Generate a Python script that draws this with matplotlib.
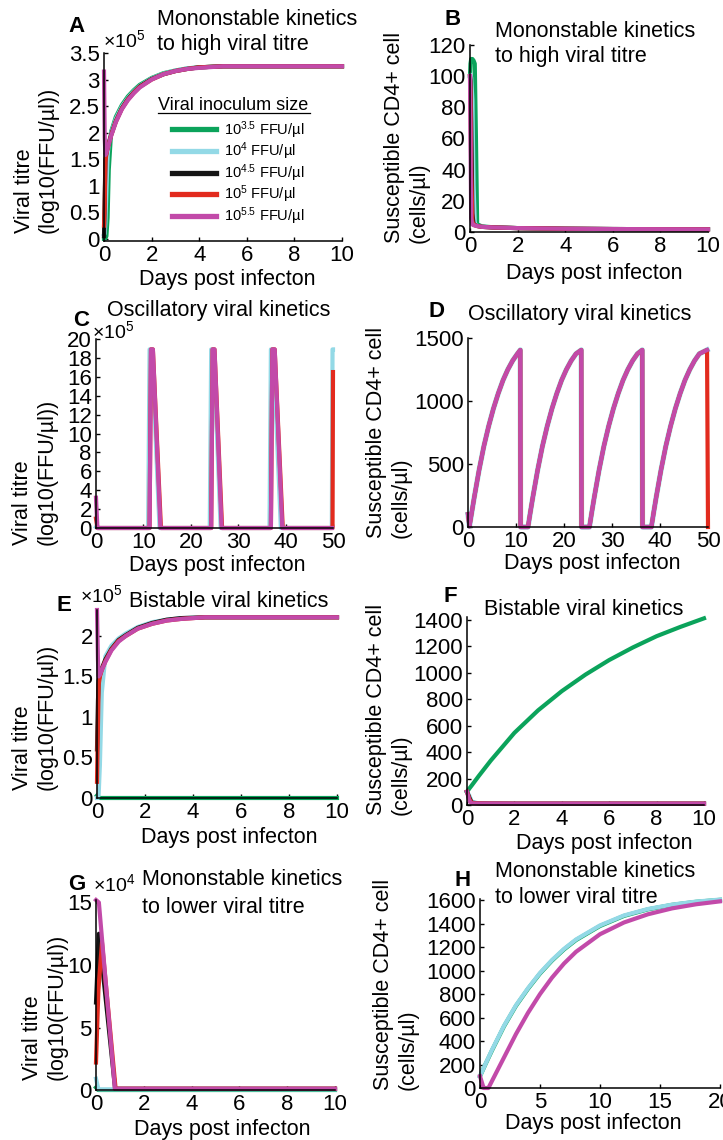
import numpy as np
import matplotlib.pyplot as plt
from matplotlib.lines import Line2D

plt.rcParams['font.family'] = ['Liberation Sans', 'DejaVu Sans']
plt.rcParams['mathtext.fontset'] = 'custom'
plt.rcParams['mathtext.rm'] = 'Liberation Sans'
plt.rcParams['mathtext.it'] = 'Liberation Sans:italic'
plt.rcParams['mathtext.bf'] = 'Liberation Sans:bold'

# legend entries (viral inoculum size) and line colours
inoculum = ['10$^{3.5}$ FFU/µl', '10$^{4}$ FFU/µl', '10$^{4.5}$ FFU/µl',
            '10$^{5}$ FFU/µl', '10$^{5.5}$ FFU/µl']
colors = ['#0ba35b', '#93d9e6', '#151515', '#e22b1e', '#c24aa9']

# ---- A: viral titre (x1e5), mononstable to high titre
t_a = [0, 0.03, 0.06, 0.1, 0.15, 0.2, 0.3, 0.5, 0.75, 1, 1.25, 1.5, 2, 2.5, 3, 3.5, 4, 5, 6, 8, 10]
a_green = [0.0, 0.0, 0.01, 0.05, 0.4, 1.3, 2.02, 2.3, 2.52, 2.68, 2.8, 2.9, 3.03, 3.12, 3.17, 3.21, 3.23, 3.25, 3.25, 3.25, 3.25]
a_cyan = [0.08, 0.1, 0.3, 0.9, 1.55, 1.82, 1.99, 2.26, 2.49, 2.65, 2.78, 2.88, 3.02, 3.11, 3.17, 3.21, 3.23, 3.25, 3.25, 3.25, 3.25]
a_black = [0.05, 0.8, 1.5, 1.62, 1.72, 1.8, 1.96, 2.22, 2.46, 2.63, 2.76, 2.87, 3.01, 3.1, 3.16, 3.2, 3.23, 3.25, 3.25, 3.25, 3.25]
a_red = [0.25, 0.6, 1.45, 1.6, 1.7, 1.79, 1.95, 2.21, 2.45, 2.62, 2.75, 2.86, 3.0, 3.1, 3.16, 3.2, 3.23, 3.25, 3.25, 3.25, 3.25]
a_magenta = [3.15, 1.9, 1.58, 1.62, 1.7, 1.78, 1.94, 2.2, 2.44, 2.61, 2.74, 2.85, 3.0, 3.1, 3.16, 3.2, 3.22, 3.25, 3.25, 3.25, 3.25]

# ---- B: susceptible CD4+ cells
t_b = [0, 0.02, 0.05, 0.1, 0.15, 0.2, 0.25, 0.3, 0.5, 1, 2, 4, 6, 8, 10]
b_green = [100, 108, 111, 111, 110, 108, 60, 5, 3.6, 3.0, 2.5, 2.1, 1.9, 1.8, 1.7]
b_cyan = [100, 101, 99, 85, 30, 6, 4.5, 4, 3.4, 2.9, 2.5, 2.1, 1.9, 1.8, 1.7]
b_black = [100, 97, 70, 12, 5, 4.5, 4.2, 3.9, 3.3, 2.9, 2.5, 2.1, 1.9, 1.8, 1.7]
b_red = [100, 90, 40, 7, 4.6, 4.3, 4.1, 3.8, 3.3, 2.9, 2.5, 2.1, 1.9, 1.8, 1.7]
b_magenta = [100, 60, 9, 4.8, 4.4, 4.2, 4.0, 3.8, 3.3, 2.9, 2.5, 2.1, 1.9, 1.8, 1.7]

# ---- C: oscillatory viral titre (x1e5)
c_cyan_t = [0, 0.3, 11.0, 11.3, 11.8, 13.4, 24.0, 24.3, 24.8, 26.3, 36.6, 36.9, 37.4, 39.0, 49.75, 49.9, 50.0]
c_cyan = [0.1, 0, 0, 18.9, 18.9, 0, 0, 18.9, 18.9, 0, 0, 18.9, 18.9, 0, 0, 18.9, 18.9]
c_red_t = [0, 0.3, 11.3, 11.6, 12.0, 13.7, 24.3, 24.6, 25.0, 26.6, 36.9, 37.2, 37.7, 39.4, 49.9, 50.0]
c_red = [1.0, 0, 0, 18.9, 18.9, 0, 0, 18.9, 18.9, 0, 0, 18.9, 18.9, 0, 0, 16.5]
c_magenta_t = [0, 0.3, 11.3, 11.6, 12.0, 13.6, 24.3, 24.6, 25.0, 26.5, 36.9, 37.2, 37.7, 39.3, 49.8]
c_magenta = [3.2, 0, 0, 18.9, 18.9, 0, 0, 18.9, 18.9, 0, 0, 18.9, 18.9, 0, 0]

# ---- D: oscillatory susceptible cells (four cycles)
d_t = ([0, 0.3, 0.8, 1.3, 2.3, 3.3, 4.3, 5.3, 6.3, 7.3, 8.3, 9.3, 10.3, 10.9, 10.95]
       + [12.5, 13.0, 13.5, 14.5, 15.5, 16.5, 17.5, 18.5, 19.5, 20.5, 21.5, 22.5, 23.6, 23.65]
       + [25.3, 25.8, 26.3, 27.3, 28.3, 29.3, 30.3, 31.3, 32.3, 33.3, 34.3, 35.3, 36.3, 36.35]
       + [38.2, 38.7, 39.2, 40.2, 41.2, 42.2, 43.2, 44.2, 45.2, 46.2, 47.2, 48.2, 49.8])
d_s = ([100, 5, 120, 235, 450, 640, 800, 940, 1060, 1165, 1250, 1320, 1375, 1405, 0]
       + [0, 120, 235, 450, 640, 800, 940, 1060, 1165, 1250, 1320, 1375, 1405, 0]
       + [0, 120, 235, 450, 640, 800, 940, 1060, 1165, 1250, 1320, 1375, 1405, 0]
       + [0, 120, 235, 450, 640, 800, 940, 1060, 1165, 1250, 1320, 1375, 1405])
d_red_end_t = [50.0]
d_red_end = [0]

# ---- E: bistable viral titre (x1e5)
t_e = [0, 0.04, 0.07, 0.12, 0.2, 0.35, 0.6, 0.9, 1.2, 1.7, 2.3, 2.9, 3.5, 4.5, 6, 8, 10]
e_green = [0.03, 0.02, 0.01, 0, 0, 0, 0, 0, 0, 0, 0, 0, 0, 0, 0, 0, 0]
e_cyan = [0.0, 0.0, 0.05, 0.4, 1.3, 1.75, 1.88, 1.97, 2.03, 2.11, 2.17, 2.2, 2.22, 2.23, 2.23, 2.23, 2.23]
e_black = [0.6, 1.2, 1.45, 1.52, 1.6, 1.71, 1.84, 1.95, 2.01, 2.1, 2.16, 2.2, 2.22, 2.23, 2.23, 2.23, 2.23]
e_red = [0.2, 0.9, 1.4, 1.5, 1.58, 1.69, 1.83, 1.94, 2.0, 2.09, 2.15, 2.19, 2.21, 2.23, 2.23, 2.23, 2.23]
e_magenta = [2.32, 1.7, 1.5, 1.52, 1.58, 1.68, 1.82, 1.93, 2.0, 2.09, 2.15, 2.19, 2.21, 2.23, 2.23, 2.23, 2.23]

# ---- F: bistable susceptible cells
t_f = [0, 0.1, 0.2, 0.5, 1, 2, 3, 4, 5, 6, 7, 8, 9, 10]
f_green = [100, 125, 148, 220, 335, 545, 715, 860, 985, 1095, 1190, 1275, 1345, 1410]
f_cyan = [100, 70, 25, 12, 11, 10, 10, 10, 10, 10, 10, 10, 10, 10]
f_black = [100, 55, 18, 12, 11, 10, 10, 10, 10, 10, 10, 10, 10, 10]
f_red = [100, 45, 15, 12, 11, 10, 10, 10, 10, 10, 10, 10, 10, 10]
f_magenta = [100, 30, 12, 11, 11, 10, 10, 10, 10, 10, 10, 10, 10, 10]

# ---- G: viral titre (x1e4), mononstable to lower titre
g_green_t, g_green = [0, 0.1, 10], [0.2, 0, 0]
g_cyan_t, g_cyan = [0, 0.1, 10], [0.9, 0.05, 0.05]
g_black_t, g_black = [0, 0.12, 0.8, 10], [7, 12.5, 0.1, 0.1]
g_red_t, g_red = [0, 0.1, 0.25, 0.82, 10], [2.2, 8, 11.8, 0.1, 0.1]
g_magenta_t, g_magenta = [0, 0.12, 0.79, 10], [15.2, 15.0, 0.1, 0.1]

# ---- H: susceptible cells, lower titre
t_h_up = [0, 0.5, 1, 2, 3, 4, 5, 6, 7, 8, 10, 12, 14, 16, 18, 20]
h_green = [100, 212, 320, 525, 700, 845, 975, 1085, 1180, 1260, 1380, 1466, 1522, 1560, 1586, 1603]
h_cyan = [100, 215, 325, 530, 705, 850, 980, 1090, 1185, 1265, 1385, 1470, 1525, 1562, 1588, 1605]
t_h_low = [0, 0.3, 0.7, 1, 2, 3, 4, 5, 6, 7, 8, 10, 12, 14, 16, 18, 20]
h_magenta = [100, 0, 0, 60, 260, 460, 640, 800, 940, 1060, 1160, 1310, 1410, 1480, 1530, 1565, 1590]

W, H = 723, 1140
fig = plt.figure(figsize=(W / 100, H / 100), dpi=100)
LW = 3.0


def fx(x):
    return x / W


def fy(y):
    return 1 - y / H


def make_axes(box, xlim, ylim, xticks, yticks):
    x0, y0, x1, y1 = box
    ax = fig.add_axes([fx(x0), fy(y1), (x1 - x0) / W, (y1 - y0) / H])
    ax.set_xlim(xlim)
    ax.set_ylim(ylim)
    ax.set_xticks(xticks)
    ax.set_yticks(yticks)
    ax.set_xticklabels([f'{v:g}' for v in xticks])
    ax.set_yticklabels([f'{v:g}' for v in yticks])
    for s in ['top', 'right']:
        ax.spines[s].set_visible(False)
    for s in ['left', 'bottom']:
        ax.spines[s].set_linewidth(1.1)
    ax.tick_params(direction='in', length=3, width=1, labelsize=16, pad=3)
    ax.patch.set_alpha(0)
    return ax


def line(ax, t, y, k):
    ax.plot(t, y, color=colors[k], lw=LW, clip_on=False, solid_joinstyle='round')


def ylab(xc, ybot, s):
    fig.text(fx(xc), fy(ybot), s, rotation=90, ha='center', va='bottom',
             multialignment='left', fontsize=15.5)


def xlab(xc, yc):
    fig.text(fx(xc), fy(yc), 'Days post infecton', ha='center', va='center', fontsize=15.5)


def words(x, yb, s, **kw):
    fig.text(fx(x), fy(yb), s, va='baseline', **kw)


V_LABEL = 'Viral titre\n(log10(FFU/µl))'
S_LABEL = 'Susceptible CD4+ cell\n(cells/µl)'
days10 = [0, 2, 4, 6, 8, 10]

# A
ax = make_axes((104, 53, 342, 241), (0, 10), (-0.04, 3.5), days10,
               [0, 0.5, 1, 1.5, 2, 2.5, 3, 3.5])
for k, y in enumerate([a_green, a_cyan, a_black, a_red, a_magenta]):
    line(ax, t_a, y, k)
handles = [Line2D([], [], color=c, lw=3.8) for c in colors]
ax.legend(handles, inoculum, loc='upper left', bbox_to_anchor=(fx(172), fy(119)),
          bbox_transform=fig.transFigure, frameon=False, fontsize=10.5,
          handlelength=3.0, handletextpad=0.6, labelspacing=0.0,
          borderpad=0, borderaxespad=0)
words(158, 110, 'Viral inoculum size', fontsize=13)
fig.add_artist(Line2D([fx(158), fx(310)], [fy(113), fy(113)], color='black', lw=0.9))
ylab(36.5, 233, V_LABEL)
xlab(227, 279)
words(157, 25, 'Mononstable kinetics', fontsize=15.5)
words(157, 50, 'to high viral titre', fontsize=15.5)
words(68, 32, 'A', fontsize=16, fontweight='bold')
words(103, 47, '×10$^{5}$', fontsize=14)

# B
ax = make_axes((470, 45, 708, 232), (0, 10), (0, 120), days10, [0, 20, 40, 60, 80, 100, 120])
for k, y in enumerate([b_green, b_cyan, b_black, b_red, b_magenta]):
    line(ax, t_b, y, k)
ylab(407, 243, S_LABEL)
xlab(594, 273)
words(495, 37, 'Mononstable kinetics', fontsize=15.5)
words(495, 62, 'to high viral titre', fontsize=15.5)
words(445, 25, 'B', fontsize=16, fontweight='bold')

# C
ax = make_axes((96, 339, 333, 528), (0, 50), (0, 20), [0, 10, 20, 30, 40, 50],
               list(range(0, 21, 2)))
line(ax, c_cyan_t, c_cyan, 1)
line(ax, c_red_t, c_red, 3)
line(ax, c_magenta_t, c_magenta, 4)
ylab(35, 545, V_LABEL)
xlab(217.5, 566)
words(107, 316, 'Oscillatory viral kinetics', fontsize=15.5)
words(73, 326, 'C', fontsize=16, fontweight='bold')
words(92, 338, '×10$^{5}$', fontsize=14)

# D
ax = make_axes((468, 338, 708, 527), (0, 50), (0, 1500), [0, 10, 20, 30, 40, 50],
               [0, 500, 1000, 1500])
ax.plot(d_t, d_s, color=colors[1], lw=LW + 0.8, clip_on=False)
line(ax, d_t + d_red_end_t, d_s + d_red_end, 3)
line(ax, d_t, d_s, 4)
ylab(389, 538, S_LABEL)
xlab(592.5, 563)
words(468, 320, 'Oscillatory viral kinetics', fontsize=15.5)
words(428, 317, 'D', fontsize=16, fontweight='bold')

# E
ax = make_axes((97, 610, 337, 798), (0, 10), (0, 2.32), days10, [0, 0.5, 1, 1.5, 2])
for k, y in enumerate([e_green, e_cyan, e_black, e_red, e_magenta]):
    line(ax, t_e, y, k)
ylab(35, 790, V_LABEL)
xlab(229, 838)
words(129, 607, 'Bistable viral kinetics', fontsize=15.5)
words(57, 611, 'E', fontsize=16, fontweight='bold')
words(80, 602, '×10$^{5}$', fontsize=14)

# F
ax = make_axes((467, 617, 704, 805), (0, 10), (0, 1420), days10,
               [0, 200, 400, 600, 800, 1000, 1200, 1400])
for k, y in enumerate([f_green, f_cyan, f_black, f_red, f_magenta]):
    line(ax, t_f, y, k)
ylab(389, 815, S_LABEL)
xlab(604, 843)
words(484, 615, 'Bistable viral kinetics', fontsize=15.5)
words(443, 602, 'F', fontsize=16, fontweight='bold')

# G
ax = make_axes((96, 900, 335, 1090), (0, 10), (0, 15.2), days10, [0, 5, 10, 15])
line(ax, g_green_t, g_green, 0)
line(ax, g_cyan_t, g_cyan, 1)
line(ax, g_black_t, g_black, 2)
line(ax, g_red_t, g_red, 3)
line(ax, g_magenta_t, g_magenta, 4)
ylab(45, 1080, V_LABEL)
xlab(222.5, 1129)
words(142, 885, 'Mononstable kinetics', fontsize=15.5)
words(142, 913, 'to lower viral titre', fontsize=15.5)
words(68, 890, 'G', fontsize=16, fontweight='bold')
words(93, 891, '×10$^{4}$', fontsize=14)

# H
ax = make_axes((480, 899, 720, 1088), (0, 20), (0, 1610), [0, 5, 10, 15, 20],
               list(range(0, 1601, 200)))
line(ax, t_h_up, h_green, 0)
line(ax, t_h_up, h_cyan, 1)
line(ax, t_h_low, h_magenta, 4)
ylab(396, 1090, S_LABEL)
xlab(593, 1124)
words(495, 877, 'Mononstable kinetics', fontsize=15.5)
words(495, 903, 'to lower viral titre', fontsize=15.5)
words(454, 886, 'H', fontsize=16, fontweight='bold')

fig.savefig('out.png', dpi=100)
